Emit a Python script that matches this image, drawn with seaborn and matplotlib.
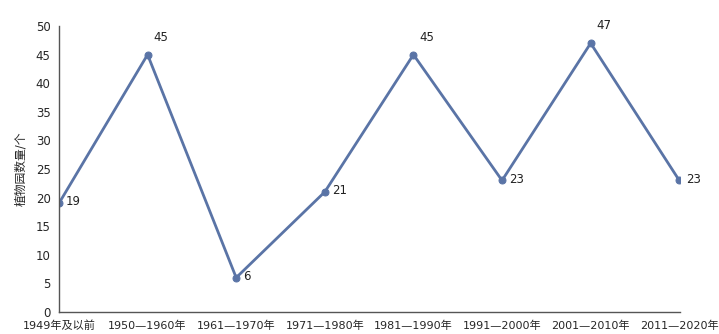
import matplotlib
matplotlib.use("Agg")
import matplotlib.pyplot as plt
import seaborn as sns
import pandas as pd

categories = ["1949年及以前", "1950—1960年", "1961—1970年", "1971—1980年",
              "1981—1990年", "1991—2000年", "2001—2010年", "2011—2020年"]
values = [19, 45, 6, 21, 45, 23, 47, 23]
y_ticks = [0, 5, 10, 15, 20, 25, 30, 35, 40, 45, 50]
y_label = "植物园数量/个"

sns.set_theme(style="white")
plt.rcParams['font.family'] = ['DejaVu Sans', 'Noto Sans CJK SC']

df = pd.DataFrame({"period": categories, "count": values})

fig = plt.figure(figsize=(7.19, 3.34), dpi=100)
ax = fig.add_axes([0.082, 0.066, 0.864, 0.856])
color = "#5a74a6"
sns.lineplot(data=df, x="period", y="count", ax=ax, color=color, linewidth=2,
             marker="o", markersize=5, markeredgecolor=color, sort=False)

above = {1, 4, 6}
for i, v in enumerate(values):
    if i in above:
        ax.annotate(str(v), (i, v), xytext=(4, 8), textcoords="offset points",
                    fontsize=8.5, color="#222222", ha="left", va="bottom")
    else:
        ax.annotate(str(v), (i, v), xytext=(5, 1), textcoords="offset points",
                    fontsize=8.5, color="#222222", ha="left", va="center")

ax.set_xlim(0, 7.01)
ax.set_ylim(0, 50)
ax.set_yticks(y_ticks)
ax.set_xticks(range(len(categories)))
ax.set_xticklabels(categories, fontsize=8)
ax.tick_params(axis="y", labelsize=8.5, length=3, direction="out", color="#555555", pad=3)
ax.tick_params(axis="x", length=4, direction="inout", color="#555555", pad=4)
ax.set_xlabel("")
ax.set_ylabel(y_label, fontsize=8.5, labelpad=6)
for s in ["top", "right"]:
    ax.spines[s].set_visible(False)
for s in ["left", "bottom"]:
    ax.spines[s].set_color("#555555")
    ax.spines[s].set_linewidth(1)

fig.savefig("out.png", dpi=100)
